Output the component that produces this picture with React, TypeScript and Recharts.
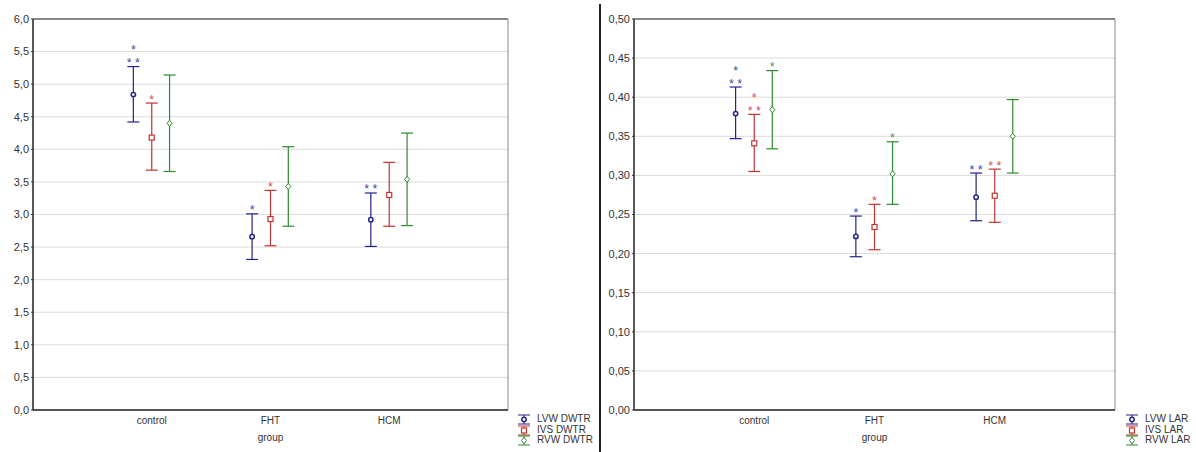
import React from "react";
import { ScatterChart, Scatter, XAxis, YAxis, CartesianGrid, ErrorBar, ReferenceLine } from "recharts";

const categories = ["control", "FHT", "HCM"];

// DWTR panel
const lvwDwtrMean = [4.84, 2.66, 2.92];
const lvwDwtrLow = [4.42, 2.31, 2.51];
const lvwDwtrHigh = [5.27, 3.01, 3.33];
const lvwDwtrStars = [["*", "* *"], ["*"], ["* *"]];

const ivsDwtrMean = [4.18, 2.93, 3.3];
const ivsDwtrLow = [3.68, 2.52, 2.82];
const ivsDwtrHigh = [4.71, 3.37, 3.8];
const ivsDwtrStars = [["*"], ["*"], []];

const rvwDwtrMean = [4.4, 3.43, 3.54];
const rvwDwtrLow = [3.66, 2.82, 2.83];
const rvwDwtrHigh = [5.14, 4.04, 4.25];
const rvwDwtrStars = [[], [], []];

const dwtrTicks = [0, 0.5, 1, 1.5, 2, 2.5, 3, 3.5, 4, 4.5, 5, 5.5, 6];

// LAR panel
const lvwLarMean = [0.379, 0.222, 0.272];
const lvwLarLow = [0.347, 0.196, 0.242];
const lvwLarHigh = [0.413, 0.248, 0.303];
const lvwLarStars = [["*", "* *"], ["*"], ["* *"]];

const ivsLarMean = [0.341, 0.234, 0.274];
const ivsLarLow = [0.305, 0.205, 0.24];
const ivsLarHigh = [0.378, 0.263, 0.308];
const ivsLarStars = [["*", "* *"], ["*"], ["* *"]];

const rvwLarMean = [0.384, 0.302, 0.35];
const rvwLarLow = [0.334, 0.263, 0.303];
const rvwLarHigh = [0.434, 0.343, 0.397];
const rvwLarStars = [["*"], ["*"], []];

const larTicks = [0, 0.05, 0.1, 0.15, 0.2, 0.25, 0.3, 0.35, 0.4, 0.45, 0.5];

const BLUE = "#22228a";
const RED = "#c23434";
const GREEN = "#2f8a2f";
const FONT = "'Liberation Sans', Arial, sans-serif";

type Row = { x: number; y: number; err: number[]; stars: string[] };

function build(mean: number[], low: number[], high: number[], stars: string[][], off: number) {
  const pts: Row[] = categories.map((_, i) => ({
    x: i + 1 + off,
    y: mean[i],
    err: [mean[i] - low[i], high[i] - mean[i]],
    stars: stars[i],
  }));
  const tops: Row[] = categories.map((_, i) => ({ x: i + 1 + off, y: high[i], err: [0, 0], stars: stars[i] }));
  return { pts, tops };
}

const Circle = (p: any) => <circle cx={p.cx} cy={p.cy} r={2.2} fill="#fff" stroke={BLUE} strokeWidth={1.5} />;
const Square = (p: any) => (
  <rect x={p.cx - 2.5} y={p.cy - 2.5} width={5} height={5} fill="#fff" stroke={RED} strokeWidth={1.2} />
);
const Diamond = (p: any) => (
  <path
    d={`M${p.cx},${p.cy - 3}L${p.cx + 2.6},${p.cy}L${p.cx},${p.cy + 3}L${p.cx - 2.6},${p.cy}Z`}
    fill="#fff"
    stroke={GREEN}
    strokeWidth={1}
  />
);

const starShape = (color: string) => (p: any) => {
  const lines: string[] = p.payload?.stars ?? [];
  return (
    <g>
      {lines.map((s, k) => (
        <text
          key={k}
          x={p.cx}
          y={p.cy + 0.5 - (lines.length - 1 - k) * 13}
          textAnchor="middle"
          fontSize={12.5}
          fontFamily={FONT}
          fill={color}
        >
          {s}
        </text>
      ))}
    </g>
  );
};

type Series = { name: string; color: string; starColor: string; shape: any; pts: Row[]; tops: Row[] };

function Panel(props: {
  series: Series[];
  ticks: number[];
  digits: number;
  yAxisWidth: number;
  marginRight: number;
}) {
  const { series, ticks, digits, yAxisWidth, marginRight } = props;
  const yMax = ticks[ticks.length - 1];
  return (
    <ScatterChart width={598} height={452} margin={{ top: 19, right: marginRight, bottom: 11, left: 0 }}>
      <CartesianGrid vertical={false} stroke="#dcdcdc" />
      <XAxis
        dataKey="x"
        type="number"
        domain={[0, 4]}
        ticks={[1, 2, 3]}
        tickFormatter={(v: number) => categories[v - 1] ?? ""}
        height={31}
        tickLine={false}
        tickSize={3}
        tickMargin={4}
        axisLine={{ stroke: "#222", strokeWidth: 1.5 }}
        tick={{ fill: "#333", fontSize: 10, fontFamily: FONT }}
        label={{ value: "group", position: "insideBottom", offset: 0, fill: "#333", fontSize: 10, fontFamily: FONT }}
      />
      <YAxis
        type="number"
        domain={[0, yMax]}
        ticks={ticks}
        width={yAxisWidth}
        tickSize={2}
        tickMargin={2}
        stroke="#333"
        axisLine={{ stroke: "#222", strokeWidth: 1.5 }}
        tickFormatter={(v: number) => v.toFixed(digits).replace(".", ",")}
        tick={{ fill: "#333", fontSize: 11, fontFamily: FONT }}
        interval={0}
      />
      <ReferenceLine y={yMax} stroke="#222" strokeWidth={1.2} />
      <ReferenceLine x={4} stroke="#888" strokeWidth={1} />
      {series.map((s) => (
        <Scatter key={s.name} name={s.name} data={s.pts} dataKey="y" shape={s.shape} isAnimationActive={false}>
          <ErrorBar dataKey="err" direction="y" width={6} stroke={s.color} strokeWidth={1.2} />
        </Scatter>
      ))}
      {series.map((s) => (
        <Scatter
          key={s.name + "-stars"}
          data={s.tops}
          dataKey="y"
          shape={starShape(s.starColor)}
          legendType="none"
          isAnimationActive={false}
        />
      ))}
    </ScatterChart>
  );
}

function LegendBox(props: { series: Series[]; left: number; top: number }) {
  return (
    <div style={{ position: "absolute", left: props.left, top: props.top, fontFamily: FONT, fontSize: 10, color: "#333" }}>
      {props.series.map((s) => (
        <div key={s.name} style={{ display: "flex", alignItems: "center", height: 10.7, lineHeight: "10.7px" }}>
          <svg width={16} height={11} style={{ marginRight: 5 }}>
            <line x1={2} x2={14} y1={1} y2={1} stroke={s.color} strokeWidth={1} />
            <line x1={8} x2={8} y1={1} y2={10} stroke={s.color} strokeWidth={1} />
            <line x1={2} x2={14} y1={10} y2={10} stroke={s.color} strokeWidth={1} />
            {s.shape({ cx: 8, cy: 5.5 })}
          </svg>
          <span style={{ whiteSpace: "nowrap" }}>{s.name}</span>
        </div>
      ))}
    </div>
  );
}

const offs = [-0.155, 0, 0.15];

function makeSeries(
  names: string[],
  groups: [number[], number[], number[], string[][]][]
): Series[] {
  const colors = [BLUE, RED, GREEN];
  const starColors = ["#4646a6", "#c45858", "#5a8a5a"];
  const shapes = [Circle, Square, Diamond];
  return groups.map((g, i) => {
    const { pts, tops } = build(g[0], g[1], g[2], g[3], offs[i]);
    return { name: names[i], color: colors[i], starColor: starColors[i], shape: shapes[i], pts, tops };
  });
}

const dwtrSeries = makeSeries(
  ["LVW DWTR", "IVS DWTR", "RVW DWTR"],
  [
    [lvwDwtrMean, lvwDwtrLow, lvwDwtrHigh, lvwDwtrStars],
    [ivsDwtrMean, ivsDwtrLow, ivsDwtrHigh, ivsDwtrStars],
    [rvwDwtrMean, rvwDwtrLow, rvwDwtrHigh, rvwDwtrStars],
  ]
);

const larSeries = makeSeries(
  ["LVW LAR", "IVS LAR", "RVW LAR"],
  [
    [lvwLarMean, lvwLarLow, lvwLarHigh, lvwLarStars],
    [ivsLarMean, ivsLarLow, ivsLarHigh, ivsLarStars],
    [rvwLarMean, rvwLarLow, rvwLarHigh, rvwLarStars],
  ]
);

export default function App() {
  return (
    <div style={{ position: "absolute", left: 0, top: 0, width: 1196, height: 452, background: "#fff", overflow: "hidden" }}>
      <div style={{ position: "absolute", left: 0, top: 0 }}>
        <Panel series={dwtrSeries} ticks={dwtrTicks} digits={1} yAxisWidth={33} marginRight={90} />
      </div>
      <LegendBox series={dwtrSeries} left={516} top={414} />
      <div style={{ position: "absolute", left: 599, top: 4, width: 2, height: 448, background: "#222" }} />
      <div style={{ position: "absolute", left: 598, top: 0 }}>
        <Panel series={larSeries} ticks={larTicks} digits={2} yAxisWidth={36} marginRight={81} />
      </div>
      <LegendBox series={larSeries} left={1124} top={414} />
    </div>
  );
}
